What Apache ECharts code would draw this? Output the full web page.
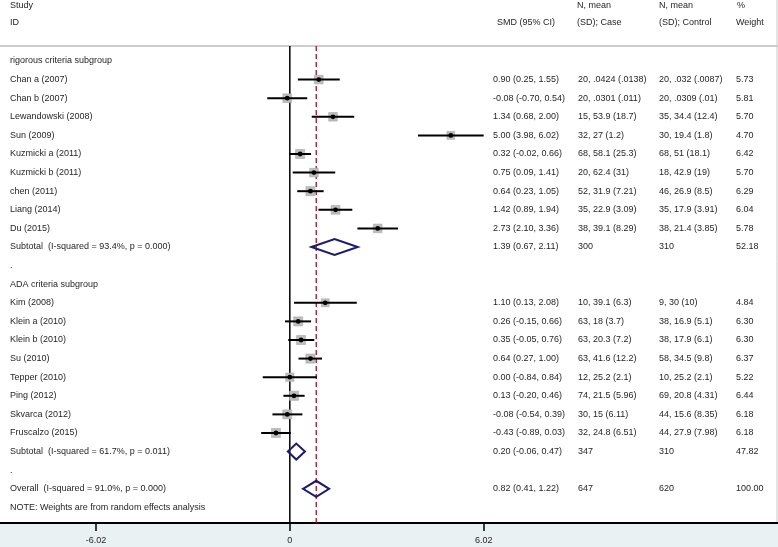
<!DOCTYPE html>
<html><head><meta charset="utf-8">
<script src="https://cdn.jsdelivr.net/npm/echarts@6/dist/echarts.min.js"></script>
<style>html,body{margin:0;padding:0;background:#fff}#c{width:778px;height:547px}</style>
</head><body><div id="c"></div>
<script>
const rowLabels = ["rigorous criteria subgroup","Chan a (2007)","Chan b (2007)","Lewandowski (2008)","Sun (2009)","Kuzmicki a (2011)","Kuzmicki b (2011)","chen (2011)","Liang (2014)","Du (2015)","Subtotal  (I-squared = 93.4%, p = 0.000)",".","ADA criteria subgroup","Kim (2008)","Klein a (2010)","Klein b (2010)","Su (2010)","Tepper (2010)","Ping (2012)","Skvarca (2012)","Fruscalzo (2015)","Subtotal  (I-squared = 61.7%, p = 0.011)",".","Overall  (I-squared = 91.0%, p = 0.000)","NOTE: Weights are from random effects analysis"];
const rowType = ["head","s","s","s","s","s","s","s","s","s","sub","blank","head","s","s","s","s","s","s","s","s","sub","blank","sub","note"];
const est   = [null,0.90,-0.08,1.34,5.00,0.32,0.75,0.64,1.42,2.73,1.39,null,null,1.10,0.26,0.35,0.64,0.00,0.13,-0.08,-0.43,0.20,null,0.82,null];
const lower = [null,0.25,-0.70,0.68,3.98,-0.02,0.09,0.23,0.89,2.10,0.67,null,null,0.13,-0.15,-0.05,0.27,-0.84,-0.20,-0.54,-0.89,-0.06,null,0.41,null];
const upper = [null,1.55,0.54,2.00,6.02,0.66,1.41,1.05,1.94,3.36,2.11,null,null,2.08,0.66,0.76,1.00,0.84,0.46,0.39,0.03,0.47,null,1.22,null];
const weights = [null,5.73,5.81,5.70,4.70,6.42,5.70,6.29,6.04,5.78,52.18,null,null,4.84,6.30,6.30,6.37,5.22,6.44,6.18,6.18,47.82,null,100.00,null];
const caseText = ["","20, .0424 (.0138)","20, .0301 (.011)","15, 53.9 (18.7)","32, 27 (1.2)","68, 58.1 (25.3)","20, 62.4 (31)","52, 31.9 (7.21)","35, 22.9 (3.09)","38, 39.1 (8.29)","300","","","10, 39.1 (6.3)","63, 18 (3.7)","63, 20.3 (7.2)","63, 41.6 (12.2)","12, 25.2 (2.1)","74, 21.5 (5.96)","30, 15 (6.11)","32, 24.8 (6.51)","347","","647",""];
const controlText = ["","20, .032 (.0087)","20, .0309 (.01)","35, 34.4 (12.4)","30, 19.4 (1.8)","68, 51 (18.1)","18, 42.9 (19)","46, 26.9 (8.5)","35, 17.9 (3.91)","38, 21.4 (3.85)","310","","","9, 30 (10)","38, 16.9 (5.1)","38, 17.9 (6.1)","58, 34.5 (9.8)","10, 25.2 (2.1)","69, 20.8 (4.31)","44, 15.6 (8.35)","44, 27.9 (7.98)","310","","620",""];
const tickValues = [-6.02, 0, 6.02];
const tickLabels = ["-6.02", "0", "6.02"];
const overallEffect = 0.82;

const FONT = "'Liberation Sans', Arial, sans-serif";
const TXT = '#262626';
const COL = {id: 10, smd: 493, cs: 578, ct: 659, w: 736};
const LINE_TOP_ROW = -0.81;

const chart = echarts.init(document.getElementById('c'), null, {renderer: 'canvas'});

function fmt(v){ return v.toFixed(2); }

const markIdx = [];
est.forEach((v,i)=>{ if (v !== null) markIdx.push(i); });

const option = {
  animation: false,
  backgroundColor: '#ffffff',
  grid: {left: 0, right: 0, top: 0, bottom: 24, containLabel: false},
  xAxis: {
    type: 'value', min: -9.0, max: 15.16,
    splitLine: {show: false},
    axisLine: {show: true, onZero: false, lineStyle: {color: '#000', width: 2}},
    axisTick: {show: true, customValues: tickValues, length: 8, lineStyle: {color: '#000', width: 1.5}},
    axisLabel: {show: true, customValues: tickValues, margin: 13, fontSize: 9, fontFamily: FONT, color: TXT,
      formatter: (v)=>{ const i = tickValues.findIndex(t=>Math.abs(t-v)<1e-6); return i>=0 ? tickLabels[i] : ''; }}
  },
  yAxis: {type: 'value', inverse: true, min: -3.28, max: 24.84, show: false},
  graphic: [
    {type: 'rect', shape: {x: 0, y: 523, width: 778, height: 24}, style: {fill: '#e9f1f2'}, z: -10, silent: true},
    {type: 'line', shape: {x1: 0, y1: 46, x2: 778, y2: 46}, style: {stroke: '#bdbdbd', lineWidth: 1.5}, silent: true},
    {type: 'line', shape: {x1: 777, y1: 0, x2: 777, y2: 523}, style: {stroke: '#c8c8c8', lineWidth: 1}, silent: true},
    {type: 'text', left: 10, top: 1, style: {text: 'Study', font: '9px ' + FONT, fill: TXT}},
    {type: 'text', left: 10, top: 18, style: {text: 'ID', font: '9px ' + FONT, fill: TXT}},
    {type: 'text', left: 497, top: 18, style: {text: 'SMD (95% CI)', font: '9px ' + FONT, fill: TXT}},
    {type: 'text', left: 577, top: 1, style: {text: 'N, mean', font: '9px ' + FONT, fill: TXT}},
    {type: 'text', left: 577, top: 18, style: {text: '(SD); Case', font: '9px ' + FONT, fill: TXT}},
    {type: 'text', left: 659, top: 1, style: {text: 'N, mean', font: '9px ' + FONT, fill: TXT}},
    {type: 'text', left: 659, top: 18, style: {text: '(SD); Control', font: '9px ' + FONT, fill: TXT}},
    {type: 'text', left: 737, top: 1, style: {text: '%', font: '9px ' + FONT, fill: TXT}},
    {type: 'text', left: 736, top: 18, style: {text: 'Weight', font: '9px ' + FONT, fill: TXT}}
  ],
  series: [
    {
      type: 'custom', name: 'reflines', clip: false, z: 1,
      data: [[0], [overallEffect]],
      renderItem: (params, api) => {
        const x = api.value(0);
        const p1 = api.coord([x, LINE_TOP_ROW]);
        const p2 = api.coord([x, 24.84]);
        const isZero = params.dataIndex === 0;
        return {type: 'line', shape: {x1: p1[0], y1: p1[1], x2: p2[0], y2: p2[1]},
          style: isZero ? {stroke: '#000', lineWidth: 1.5} : {stroke: '#8b1a2a', lineWidth: 1.3, lineDash: [5, 3]}};
      }
    },
    {
      type: 'custom', name: 'marks', clip: false, z: 3,
      data: markIdx.map(i => [est[i], i, lower[i], upper[i]]),
      renderItem: (params, api) => {
        const i = markIdx[params.dataIndex];
        const c = api.coord([est[i], i]);
        const l = api.coord([lower[i], i]);
        const h = api.coord([upper[i], i]);
        if (rowType[i] === 'sub') {
          const hh = 8;
          return {type: 'polygon', shape: {points: [[l[0], c[1]], [c[0], c[1]-hh], [h[0], c[1]], [c[0], c[1]+hh]]},
            style: {fill: 'none', stroke: '#1b1b6e', lineWidth: 2}};
        }
        const s = 3.6 * Math.sqrt(weights[i]);
        return {type: 'group', children: [
          {type: 'rect', shape: {x: c[0]-s/2, y: c[1]-s/2, width: s, height: s}, style: {fill: '#bdbdbd', stroke: '#a8a8a8', lineWidth: 0.6}},
          {type: 'line', shape: {x1: l[0], y1: c[1], x2: h[0], y2: c[1]}, style: {stroke: '#000', lineWidth: 2}},
          {type: 'circle', shape: {cx: c[0], cy: c[1], r: 2.4}, style: {fill: '#000'}}
        ]};
      }
    },
    {
      type: 'custom', name: 'texts', clip: false, z: 5,
      data: rowLabels.map((t, i) => [0, i]),
      renderItem: (params, api) => {
        const i = params.dataIndex;
        const y = api.coord([0, i])[1];
        const st = (t, x) => ({type: 'text', style: {text: t, x: x, y: y, font: '9px ' + FONT, fill: TXT, textVerticalAlign: 'middle', textAlign: 'left'}});
        const ch = [st(rowLabels[i], COL.id)];
        if (est[i] !== null) ch.push(st(fmt(est[i]) + ' (' + fmt(lower[i]) + ', ' + fmt(upper[i]) + ')', COL.smd));
        if (caseText[i]) ch.push(st(caseText[i], COL.cs));
        if (controlText[i]) ch.push(st(controlText[i], COL.ct));
        if (weights[i] !== null) ch.push(st(fmt(weights[i]), COL.w));
        return {type: 'group', children: ch};
      }
    }
  ]
};
chart.setOption(option);
</script>
</body></html>
